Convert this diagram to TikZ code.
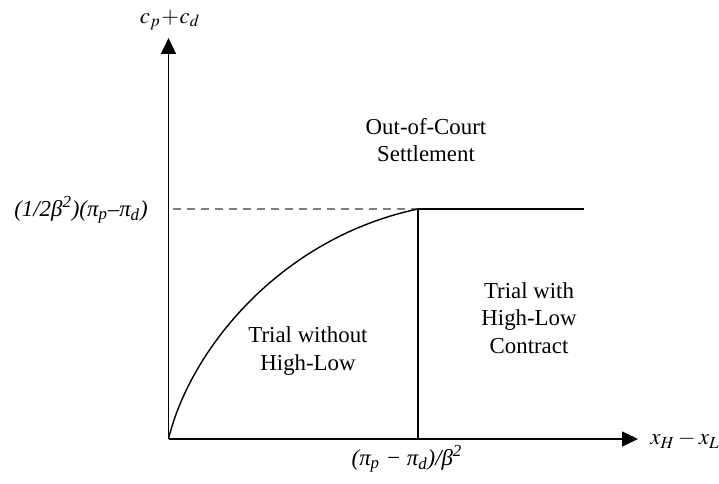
\documentclass[tikz,border=0pt]{standalone}
\usepackage{mathptmx}
\usepackage{fontspec}
\setmainfont{Liberation Serif}
\usetikzlibrary{arrows.meta,positioning}

\begin{document}
\begin{tikzpicture}[
  x=0.02cm, y=-0.02cm,
  ax/.style={line width=0.8pt, -{Triangle[length=0.32cm, width=0.3cm]}},
  bd/.style={line width=0.8pt},
  lvl/.style={dashed, gray, line width=0.6pt, dash pattern=on 0.16cm off 0.12cm},
  reg/.style={align=center, font=\fontsize{13}{15.6}\selectfont, inner sep=0pt},
  lbl/.style={font=\fontsize{13}{15.6}\selectfont, inner sep=0pt}
]
\useasboundingbox (0,0) rectangle (719,483);

\coordinate (o)  at (168.5,439);
\coordinate (yt) at (168.5,38);
\coordinate (xt) at (638,439);
\coordinate (k)  at (418,209);
\coordinate (kb) at (418,439);
\coordinate (e)  at (584,209);
\coordinate (d)  at (173,209);

\draw[ax] (o) -- (yt);
\draw[ax] (o) -- (xt);

\node[lbl] at (170,20)          (cc)  {$c_p\!+\!c_d$};
\node[lbl, anchor=west] at (650,440) (xx) {$x_H - x_L$};
\node[lbl] at (81,210)          (lv)  {\itshape (1/2β\textsuperscript{2})(π\textsubscript{p}–π\textsubscript{d})};
\node[lbl] at (407,459)         (kx)  {\itshape (π\textsubscript{p} − π\textsubscript{d})/β\textsuperscript{2}};

\draw[lvl] (d) -- (k);
\draw[bd] (o) .. controls (190,350) and (280,238) .. (k);
\draw[bd] (k) -- (kb);
\draw[bd] (k) -- (e);

\node[reg] at (426,140) (ocs) {Out-of-Court\\Settlement};
\node[reg] at (308,351) (twh) {Trial without\\High-Low};
\node[reg] at (529,318) (thl) {Trial with\\High-Low\\Contract};
\end{tikzpicture}
\end{document}
